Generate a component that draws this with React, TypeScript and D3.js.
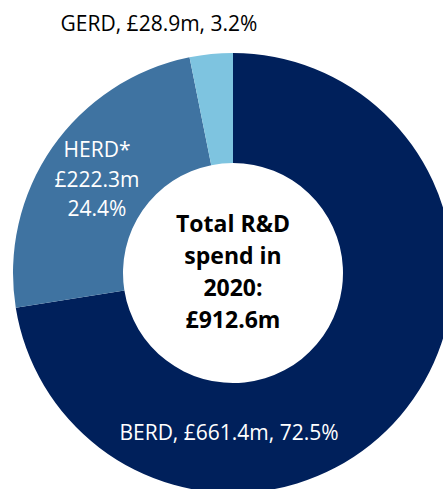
import React from "react";
import * as d3 from "d3";

const categories = ["BERD", "HERD*", "GERD"];
const values = [661.4, 222.3, 28.9];
const shares = ["72.5%", "24.4%", "3.2%"];
const amounts = ["£661.4m", "£222.3m", "£28.9m"];
const colors = ["#00205B", "#3F73A1", "#7EC4E0"];
const centerLines = ["Total R&D", "spend in", "2020:", "£912.6m"];

const W = 443;
const H = 489;
const cx = 233;
const cy = 273;
const outerR = 220;
const innerR = 110;
const FONT = "'Open Sans', 'Noto Sans', sans-serif";

export default function App() {
  const pie = d3.pie<number>().sort(null).value((d) => d);
  const arcs = pie(values);
  const arc = d3.arc<d3.PieArcDatum<number>>().innerRadius(innerR).outerRadius(outerR);
  return (
    <svg width={W} height={H} style={{ position: "absolute", left: 0, top: 0 }}>
      <g transform={`translate(${cx},${cy})`}>
        {arcs.map((a, i) => (
          <path key={i} d={arc(a) || ""} fill={colors[i]} />
        ))}
      </g>
      <text x={159} y={31} textAnchor="middle" fontFamily={FONT} fontSize={21} fill="#000">
        {`${categories[2]}, ${amounts[2]}, ${shares[2]}`}
      </text>
      <text textAnchor="middle" fontFamily={FONT} fontSize={21} fill="#fff">
        <tspan x={97} y={157}>{categories[1]}</tspan>
        <tspan x={97} y={186.5}>{amounts[1]}</tspan>
        <tspan x={97} y={216}>{shares[1]}</tspan>
      </text>
      <text x={229} y={440} textAnchor="middle" fontFamily={FONT} fontSize={21} fill="#fff">
        {`${categories[0]}, ${amounts[0]}, ${shares[0]}`}
      </text>
      <text textAnchor="middle" fontFamily={FONT} fontSize={23} fontWeight="bold" fill="#000">
        {centerLines.map((l, i) => (
          <tspan key={i} x={233} y={232 + i * 32}>{l}</tspan>
        ))}
      </text>
    </svg>
  );
}
